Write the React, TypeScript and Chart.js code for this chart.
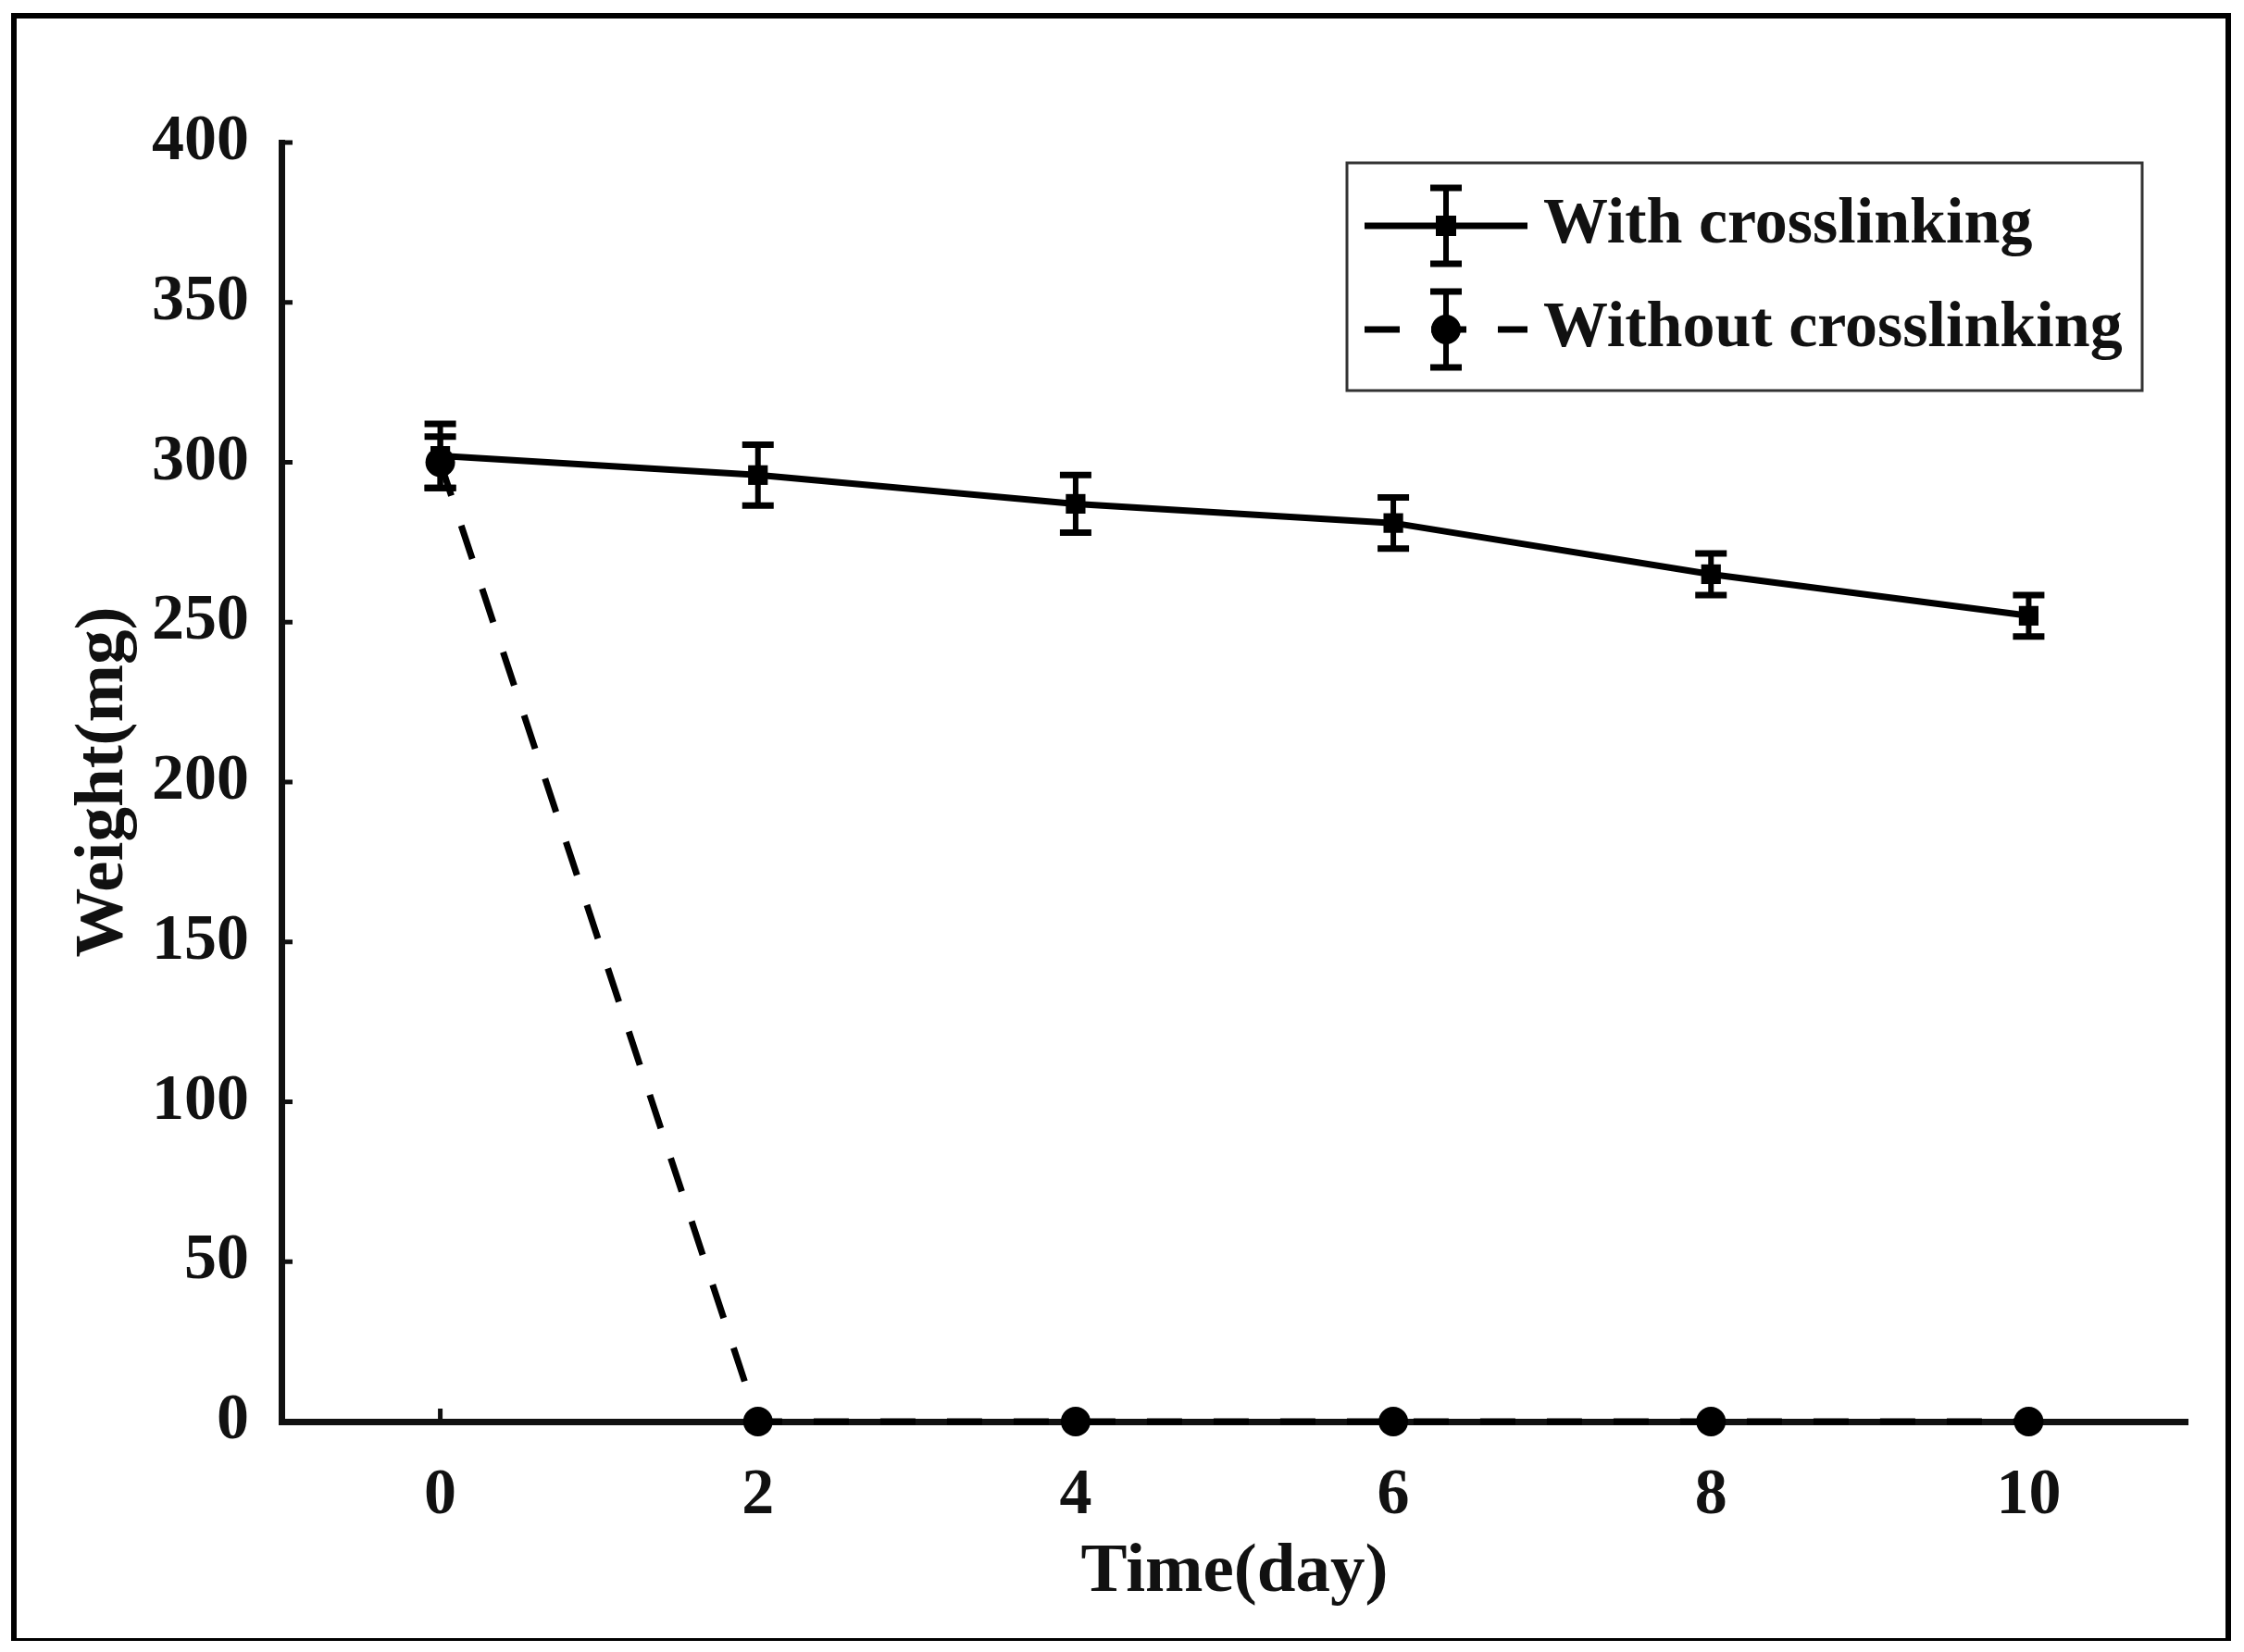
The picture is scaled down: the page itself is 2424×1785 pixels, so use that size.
import { useEffect, useRef } from "react"
import { Chart, registerables } from "chart.js"

Chart.register(...registerables)

const days = [0, 2, 4, 6, 8, 10]
const withCrosslinking = [302, 296, 287, 281, 265, 252]
const withCrosslinkingErr = [10, 9.5, 9, 8, 6.5, 6.5]
const withoutCrosslinking = [300, 0, 0, 0, 0, 0]
const withoutCrosslinkingErr = [8, 0, 0, 0, 0, 0]
const xTicks = [0, 2, 4, 6, 8, 10]
const yTicks = [0, 50, 100, 150, 200, 250, 300, 350, 400]
const seriesLabels = ["With crosslinking", "Without crosslinking"]

const INK = "#111"
const FONT = '"Liberation Serif", "Times New Roman", serif'

// vertical error bars with caps, placed through the chart's scales
const errorBars = {
  id: "errorBars",
  afterDatasetsDraw(chart: any) {
    const { ctx } = chart
    const xs = chart.scales.x
    const ys = chart.scales.y
    chart.data.datasets.forEach((ds: any) => {
      if (!ds.errors) return
      ctx.save()
      ctx.strokeStyle = "#000"
      ds.data.forEach((p: any, i: number) => {
        const e = ds.errors[i]
        if (!e) return
        const px = xs.getPixelForValue(p.x)
        const top = ys.getPixelForValue(p.y + e)
        const bot = ys.getPixelForValue(p.y - e)
        ctx.lineWidth = 6
        ctx.beginPath()
        ctx.moveTo(px, top)
        ctx.lineTo(px, bot)
        ctx.stroke()
        ctx.lineWidth = 7
        ctx.beginPath()
        ctx.moveTo(px - 17, top)
        ctx.lineTo(px + 17, top)
        ctx.moveTo(px - 17, bot)
        ctx.lineTo(px + 17, bot)
        ctx.stroke()
      })
      ctx.restore()
    })
  },
}

// matlab style ticks pointing into the plot
const innerTicks = {
  id: "innerTicks",
  beforeDatasetsDraw(chart: any) {
    const { ctx, chartArea } = chart
    ctx.save()
    ctx.strokeStyle = INK
    ctx.lineWidth = 5
    ctx.beginPath()
    chart.scales.y.ticks.forEach((t: any) => {
      const py = chart.scales.y.getPixelForValue(t.value)
      ctx.moveTo(chartArea.left, py)
      ctx.lineTo(chartArea.left + 12, py)
    })
    chart.scales.x.ticks.forEach((t: any) => {
      const px = chart.scales.x.getPixelForValue(t.value)
      ctx.moveTo(px, chartArea.bottom)
      ctx.lineTo(px, chartArea.bottom - 14)
    })
    ctx.stroke()
    ctx.restore()
  },
}

const boxLegend = {
  id: "boxLegend",
  afterDraw(chart: any) {
    const { ctx } = chart
    const left = 1455
    const top = 176
    const right = 2314
    const bottom = 422
    const rows = [244, 356]
    ctx.save()
    ctx.fillStyle = "#fff"
    ctx.fillRect(left, top, right - left, bottom - top)
    ctx.strokeStyle = "#333"
    ctx.lineWidth = 3
    ctx.strokeRect(left, top, right - left, bottom - top)

    chart.data.datasets.forEach((ds: any, i: number) => {
      const y = rows[i]
      const mx = 1562
      ctx.strokeStyle = "#000"
      ctx.fillStyle = "#000"
      ctx.lineWidth = 7
      ctx.setLineDash(ds.borderDash || [])
      ctx.beginPath()
      ctx.moveTo(1474, y)
      ctx.lineTo(1650, y)
      ctx.stroke()
      ctx.setLineDash([])
      // error bar sample
      ctx.lineWidth = 6
      ctx.beginPath()
      ctx.moveTo(mx, y - 41)
      ctx.lineTo(mx, y + 41)
      ctx.stroke()
      ctx.lineWidth = 7
      ctx.beginPath()
      ctx.moveTo(mx - 17, y - 41)
      ctx.lineTo(mx + 17, y - 41)
      ctx.moveTo(mx - 17, y + 41)
      ctx.lineTo(mx + 17, y + 41)
      ctx.stroke()
      if (ds.pointStyle === "rect") {
        ctx.fillRect(mx - 11, y - 11, 22, 22)
      } else {
        ctx.beginPath()
        ctx.arc(mx, y, 16, 0, Math.PI * 2)
        ctx.fill()
      }
      ctx.fillStyle = INK
      ctx.font = `bold 70px ${FONT}`
      ctx.textBaseline = "middle"
      ctx.textAlign = "left"
      ctx.fillText(ds.label, 1667, y)
    })
    ctx.restore()
  },
}

const frame = {
  id: "frame",
  beforeDraw(chart: any) {
    const { ctx, width, height } = chart
    ctx.save()
    ctx.fillStyle = "#fff"
    ctx.fillRect(0, 0, width, height)
    ctx.restore()
  },
  afterDraw(chart: any) {
    const { ctx } = chart
    ctx.save()
    ctx.fillStyle = "#000"
    ctx.fillRect(12, 14, 6, 1759)
    ctx.fillRect(12, 14, 2398, 6)
    ctx.fillRect(2404, 14, 6, 1759)
    ctx.fillRect(12, 1770, 2398, 3)
    ctx.restore()
  },
}

export default function App() {
  const chartRef = useRef<HTMLCanvasElement>(null)
  const chartInstance = useRef<Chart | null>(null)

  useEffect(() => {
    document.body.style.margin = "0"
    if (!chartRef.current) return
    const ctx = chartRef.current.getContext("2d")
    if (!ctx) return
    if (chartInstance.current) chartInstance.current.destroy()

    Chart.defaults.font.family = FONT
    Chart.defaults.color = INK

    chartInstance.current = new Chart(ctx, {
      type: "line",
      data: {
        datasets: [
          {
            label: seriesLabels[0],
            data: days.map((d, i) => ({ x: d, y: withCrosslinking[i] })),
            errors: withCrosslinkingErr,
            order: 0,
            borderColor: "#000",
            backgroundColor: "#000",
            borderWidth: 7,
            pointStyle: "rect",
            pointRadius: 15,
            pointBorderWidth: 0,
            clip: false,
          } as any,
          {
            label: seriesLabels[1],
            data: days.map((d, i) => ({ x: d, y: withoutCrosslinking[i] })),
            errors: withoutCrosslinkingErr,
            order: 1,
            borderColor: "#000",
            backgroundColor: "#000",
            borderWidth: 7,
            borderDash: [38, 34],
            pointStyle: "circle",
            pointRadius: 16,
            pointBorderWidth: 0,
            clip: false,
          } as any,
        ],
      },
      options: {
        responsive: false,
        animation: false,
        devicePixelRatio: 1,
        layout: { padding: { left: 0, top: 154, right: 61, bottom: 0 } },
        plugins: {
          legend: { display: false },
          tooltip: { enabled: false },
        },
        scales: {
          x: {
            type: "linear",
            min: -1,
            max: 11,
            afterBuildTicks: (axis: any) => {
              axis.ticks = xTicks.map((v) => ({ value: v }))
            },
            afterFit: (scale: any) => {
              scale.height = 249
            },
            grid: { display: false },
            border: { display: true, color: INK, width: 7 },
            ticks: {
              color: INK,
              autoSkip: false,
              maxRotation: 0,
              padding: 31,
              font: { size: 70, weight: "bold" },
            },
            title: {
              display: true,
              text: "Time(day)",
              color: INK,
              font: { size: 75, weight: "bold" },
              padding: { top: 0, bottom: 40 },
            },
          },
          y: {
            min: 0,
            max: 400,
            afterBuildTicks: (axis: any) => {
              axis.ticks = yTicks.map((v) => ({ value: v }))
            },
            afterFit: (scale: any) => {
              scale.width = 304
            },
            grid: { display: false },
            border: { display: true, color: INK, width: 7 },
            ticks: {
              color: INK,
              autoSkip: false,
              padding: 27,
              font: { size: 70, weight: "bold" },
            },
            title: {
              display: true,
              text: "Weight(mg)",
              color: INK,
              font: { size: 75, weight: "bold" },
              padding: { top: 68, bottom: 0 },
            },
          },
        },
      },
      plugins: [frame, innerTicks, errorBars, boxLegend],
    })

    return () => {
      if (chartInstance.current) {
        chartInstance.current.destroy()
        chartInstance.current = null
      }
    }
  }, [])

  return (
    <div style={{ width: 2424, height: 1785 }}>
      <canvas ref={chartRef} width={2424} height={1785} style={{ display: "block" }}></canvas>
    </div>
  )
}
